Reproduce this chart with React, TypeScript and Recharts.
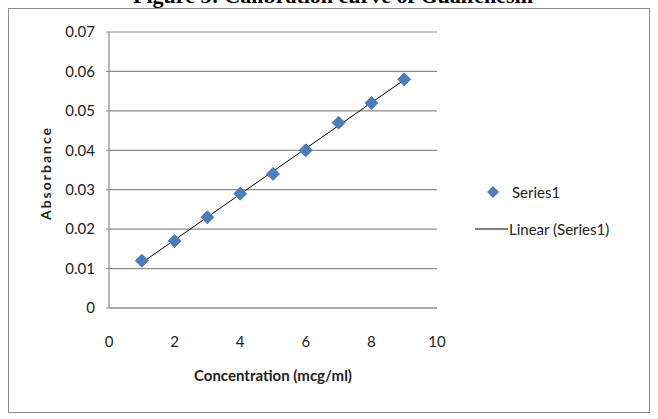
import React from 'react';
import {
  ComposedChart,
  Scatter,
  Line,
  XAxis,
  YAxis,
  CartesianGrid,
} from 'recharts';

const concentrations = [1, 2, 3, 4, 5, 6, 7, 8, 9];
const absorbance = [0.012, 0.017, 0.023, 0.029, 0.034, 0.04, 0.047, 0.052, 0.058];
const xTicks = [0, 2, 4, 6, 8, 10];
const yTicks = [0, 0.01, 0.02, 0.03, 0.04, 0.05, 0.06, 0.07];

const points = concentrations.map((x, i) => ({ x, y: absorbance[i] }));

// least squares trendline, like Excel's "Linear (Series1)"
const n = points.length;
const meanX = concentrations.reduce((a, b) => a + b, 0) / n;
const meanY = absorbance.reduce((a, b) => a + b, 0) / n;
const sxy = points.reduce((s, p) => s + (p.x - meanX) * (p.y - meanY), 0);
const sxx = points.reduce((s, p) => s + (p.x - meanX) ** 2, 0);
const slope = sxy / sxx;
const intercept = meanY - slope * meanX;
const xMin = Math.min(...concentrations);
const xMax = Math.max(...concentrations);
const trend = [
  { x: xMin, t: intercept + slope * xMin },
  { x: xMax, t: intercept + slope * xMax },
];

const FONT = 'Lato, "Open Sans", sans-serif';
const BLUE = '#4a7ebb';
const GRAY = '#8c8c8c';

const Diamond = (props: any) => {
  const { cx, cy } = props;
  const r = 6.5;
  return (
    <polygon
      points={`${cx},${cy - r} ${cx + r},${cy} ${cx},${cy + r} ${cx - r},${cy}`}
      fill={BLUE}
      stroke="#4272ab"
      strokeWidth={0.8}
    />
  );
};

const ChartLegend = () => (
  <svg
    width={180}
    height={70}
    style={{ position: 'absolute', left: 475, top: 186, overflow: 'visible' }}
  >
    <polygon points="18,0 24,6 18,12 12,6" fill={BLUE} />
    <text x={37} y={6} dominantBaseline="central" fontSize={15} fill="#222" fontFamily={FONT}>
      Series1
    </text>
    <line x1={0} y1={43} x2={33} y2={43} stroke="#000" strokeWidth={1} />
    <text x={34} y={43} dominantBaseline="central" fontSize={15} fill="#222" fontFamily={FONT}>
      Linear (Series1)
    </text>
  </svg>
);

export default function App() {
  return (
    <div
      style={{
        position: 'absolute',
        left: 0,
        top: 0,
        width: 658,
        height: 419,
        background: '#fff',
        overflow: 'hidden',
      }}
    >
      <svg width={658} height={20} style={{ position: 'absolute', left: 0, top: 0 }}>
        <text
          x={333}
          y={3}
          textAnchor="middle"
          fontFamily='"Liberation Serif", "DejaVu Serif", serif'
          fontWeight="bold"
          fontSize={22}
          fill="#000"
        >
          Figure 3: Calibration curve of Guaifenesin
        </text>
      </svg>
      <div
        style={{
          position: 'absolute',
          left: 8,
          top: 8,
          width: 640,
          height: 403,
          border: `1.5px solid ${GRAY}`,
        }}
      />
      <div style={{ position: 'absolute', left: 0, top: 0 }}>
        <ComposedChart
          width={658}
          height={419}
          margin={{ top: 32, right: 221, bottom: 81, left: 49 }}
        >
          <CartesianGrid vertical={false} stroke={GRAY} strokeWidth={1.2} />
          <XAxis
            type="number"
            dataKey="x"
            domain={[0, 10]}
            ticks={xTicks}
            allowDataOverflow
            height={30}
            axisLine={{ stroke: GRAY, strokeWidth: 1.2 }}
            tickLine={false}
            tickMargin={22}
            tick={{ fill: '#222', fontSize: 15, fontFamily: FONT }}
            label={(props: any) => {
              const vb = props.viewBox;
              return (
                <text
                  x={vb.x + vb.width / 2}
                  y={vb.y + 67}
                  textAnchor="middle"
                  dominantBaseline="central"
                  fontFamily={FONT}
                  fontWeight="bold"
                  fontSize={15}
                  fill="#222"
                >
                  Concentration (mcg/ml)
                </text>
              );
            }}
          />
          <YAxis
            type="number"
            domain={[0, 0.07]}
            ticks={yTicks}
            width={60}
            axisLine={{ stroke: GRAY, strokeWidth: 1.2 }}
            tickLine={{ stroke: GRAY }}
            tickSize={3}
            tickMargin={11}
            tickFormatter={(v: number) => (v === 0 ? '0' : v.toFixed(2))}
            tick={{ fill: '#222', fontSize: 15, fontFamily: FONT }}
            label={(props: any) => {
              const vb = props.viewBox;
              const cy = vb.y + vb.height / 2 + 3;
              return (
                <text
                  x={45}
                  y={cy}
                  transform={`rotate(-90 45 ${cy})`}
                  textAnchor="middle"
                  dominantBaseline="central"
                  fontFamily={FONT}
                  fontWeight="bold"
                  fontSize={14}
                  letterSpacing={2}
                  fill="#222"
                >
                  Absorbance
                </text>
              );
            }}
          />
          <Line
            data={trend}
            dataKey="t"
            type="linear"
            stroke="#000"
            strokeWidth={1}
            dot={false}
            activeDot={false}
            isAnimationActive={false}
            legendType="none"
          />
          <Scatter
            data={points}
            dataKey="y"
            shape={<Diamond />}
            isAnimationActive={false}
          />
        </ComposedChart>
      </div>
      <ChartLegend />
    </div>
  );
}
